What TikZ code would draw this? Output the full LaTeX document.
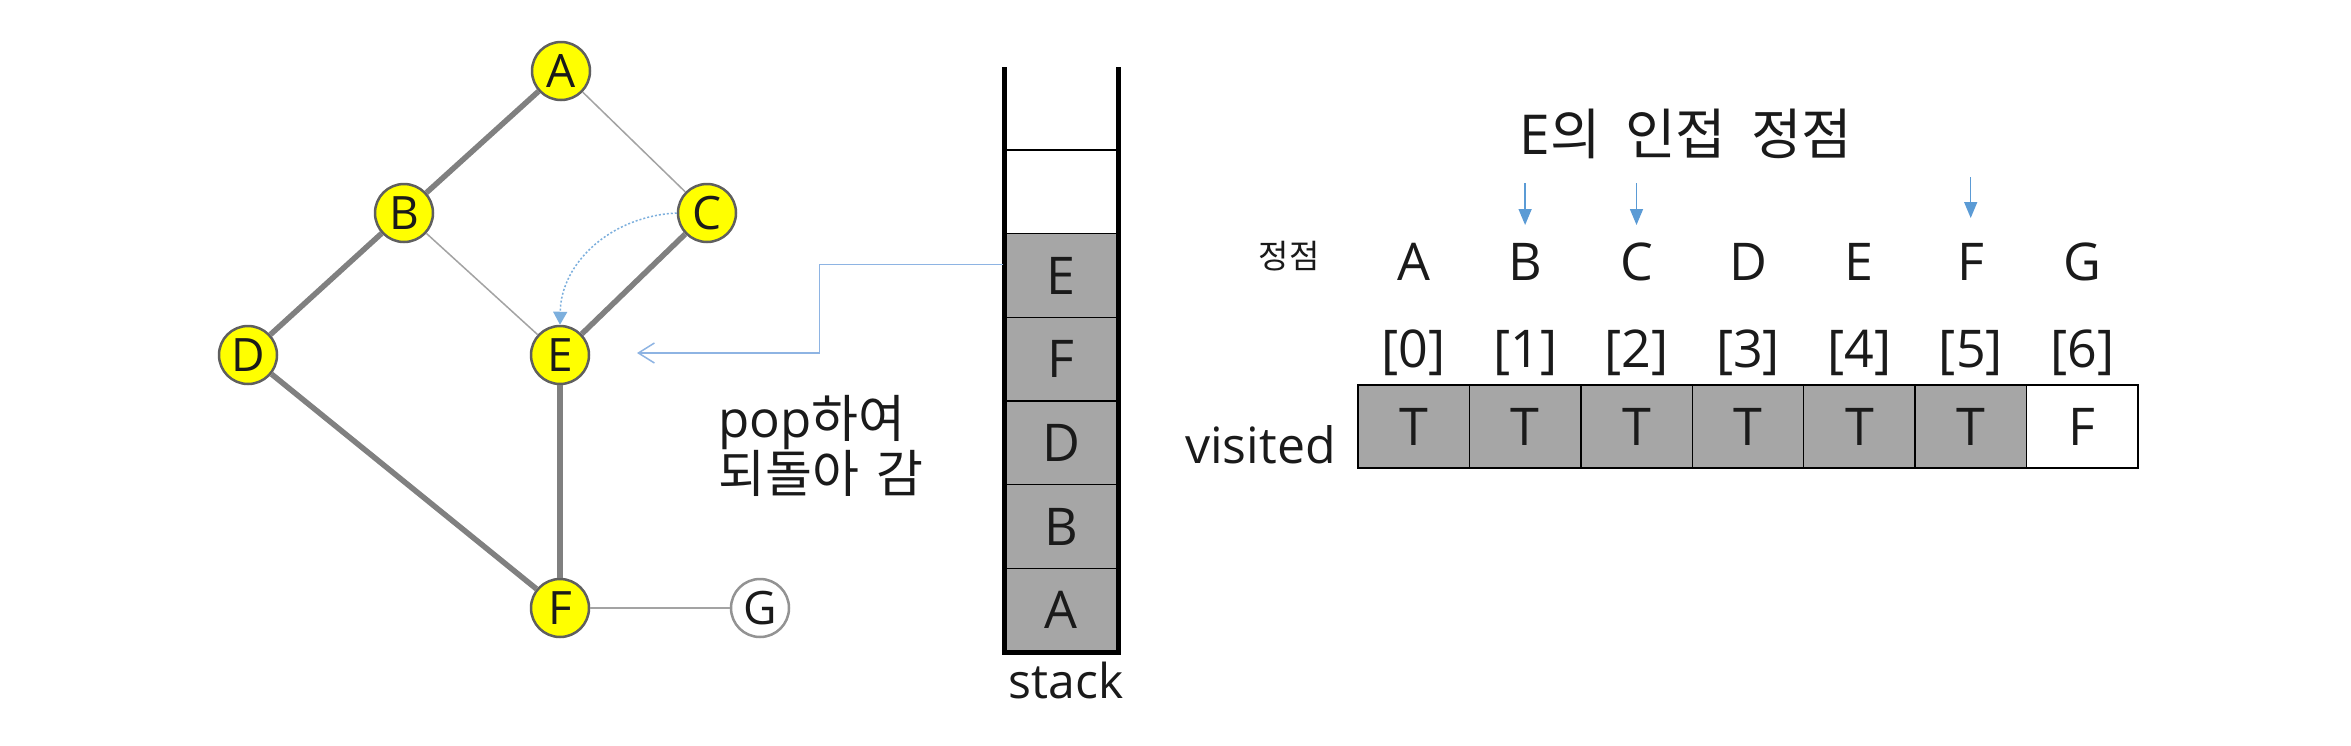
\documentclass[tikz,border=0pt]{standalone}
\usepackage{fontspec}
\setmainfont{Open Sans}
\newfontfamily\kr{Noto Sans CJK KR}
\usetikzlibrary{arrows.meta}
\definecolor{nodeyellow}{HTML}{FFFF00}
\definecolor{nodeborder}{HTML}{5F5F5F}
\definecolor{thickgray}{HTML}{808080}
\definecolor{thingray}{HTML}{A3A3A3}
\definecolor{cellgray}{HTML}{A6A6A6}
\definecolor{arrowblue}{HTML}{5B9BD5}
\definecolor{connblue}{HTML}{8EB4E3}
\definecolor{txt}{HTML}{1A1A1A}
\begin{document}
\begin{tikzpicture}[x=1pt,y=-1pt,
  vtx/.style={circle,draw=nodeborder,line width=2.5pt,fill=nodeyellow,minimum size=58pt,inner sep=0pt,text=txt,font=\fontsize{46}{52}\selectfont},
  vtxw/.style={vtx,fill=white,draw=gray!85},
  thickedge/.style={draw=thickgray,line width=5.5pt},
  thinedge/.style={draw=thingray,line width=1.5pt},
  cellbox/.style={rectangle,draw=black,line width=1.5pt,fill=cellgray,minimum width=114pt,minimum height=83.7pt,inner sep=0pt,text=txt,font=\fontsize{52}{60}\selectfont},
  vcell/.style={rectangle,draw=black,line width=1.5pt,fill=cellgray,minimum width=111.43pt,minimum height=83pt,inner sep=0pt,text=txt,font=\fontsize{52}{60}\selectfont},
  wall/.style={draw=black,line width=5pt},
  lbl/.style={inner sep=0pt,anchor=base,text=txt,font=\fontsize{52}{60}\selectfont},
  downarrow/.style={draw=arrowblue,line width=1.5pt,-{Triangle[length=16pt,width=13pt]}},
  dotarrow/.style={draw=arrowblue!80,line width=1.5pt,dash pattern=on 2pt off 2pt,-{Triangle[length=13pt,width=14pt,sep=0pt]}},
  conn/.style={draw=connblue,line width=1.5pt,-{Straight Barb[length=16pt,width=20pt]}}]
\useasboundingbox (0,0) rectangle (2351,745);
\fill[white] (0,0) rectangle (2351,745);

% graph
\node[vtx] (A) at (561,71) {A};
\node[vtx] (B) at (404,213) {B};
\node[vtx] (C) at (707,213) {C};
\node[vtx] (D) at (248,355) {D};
\node[vtx] (E) at (560,355) {E};
\node[vtx] (F) at (560,608) {F};
\node[vtxw] (G) at (760,608) {G};

\draw[thickedge] (A) -- (B);
\draw[thickedge] (B) -- (D);
\draw[thickedge] (C) -- (E);
\draw[thickedge] (D) -- (F);
\draw[thickedge] (E) -- (F);
\draw[thinedge] (A) -- (C);
\draw[thinedge] (B) -- (E);
\draw[thinedge] (F) -- (G);

\draw[dotarrow] (C.west) .. controls (612,216) and (561,262) .. (E.north);

% stack
\node[cellbox,fill=white] (s6) at (1061,191.85) {};
\node[cellbox] (sE) at (1061,275.55) {E};
\node[cellbox] (sF) at (1061,359.2) {F};
\node[cellbox] (sD) at (1061,442.9) {D};
\node[cellbox] (sB) at (1061,526.5) {B};
\node[cellbox] (sA) at (1061,610.2) {A};
\coordinate (wl) at (1004,67);
\coordinate (wr) at (1118,67);
\draw[wall] (wl) -- (wl |- sA.south) -- (wr |- sA.south) -- (wr);
\node[inner sep=0pt,anchor=base,text=txt,font=\fontsize{48}{56}\selectfont] (stk) at (1066,698) {stack};

% connector from stack to E
\coordinate (tip) at (637,353);
\draw[conn] ([yshift=11pt]sE.west) -- ++(-184,0) |- (tip);

\node[inner sep=0pt,anchor=base west,text=txt,font=\fontsize{51}{60}\selectfont] (pop1) at (718,437) {pop\kr{하여}};
\node[inner sep=0pt,anchor=base west,text=txt,font=\fontsize{51}{60}\selectfont] (pop2) at (718,492) {\kr{되돌아\hspace{0.35em}감}};

% visited array
\node[inner sep=0pt,anchor=base,text=txt,font=\fontsize{55}{64}\selectfont] (title) at (1686,154) {E\kr{의\hspace{0.45em}인접\hspace{0.45em}정점}};
\node[inner sep=0pt,anchor=base,text=txt,font=\fontsize{33}{40}\kr] (jj) at (1289,268) {정점};

\foreach \i/\L/\v in {0/A/T,1/B/T,2/C/T,3/D/T,4/E/T,5/F/T,6/G/F}{
  \node[lbl] (L\L) at ({1413.7+111.43*\i},280) {\L};
  \node[lbl] (I\i) at ({1413.7+111.43*\i},367) {[\i]};
  \node[vcell] (v\i) at ({1413.7+111.43*\i},426.5) {\v};
}
\node[vcell,fill=white] at (v6) {F};
\node[inner sep=0pt,anchor=base east,text=txt,font=\fontsize{50}{60}\selectfont] (vis) at (1336,463) {visited};

\coordinate (aB) at (1525.1,183);
\coordinate (aC) at (1636.5,183);
\coordinate (aF) at (1970.7,177);
\draw[downarrow] (aB) -- ++(0,42);
\draw[downarrow] (aC) -- ++(0,42);
\draw[downarrow] (aF) -- ++(0,41);
\end{tikzpicture}
\end{document}
